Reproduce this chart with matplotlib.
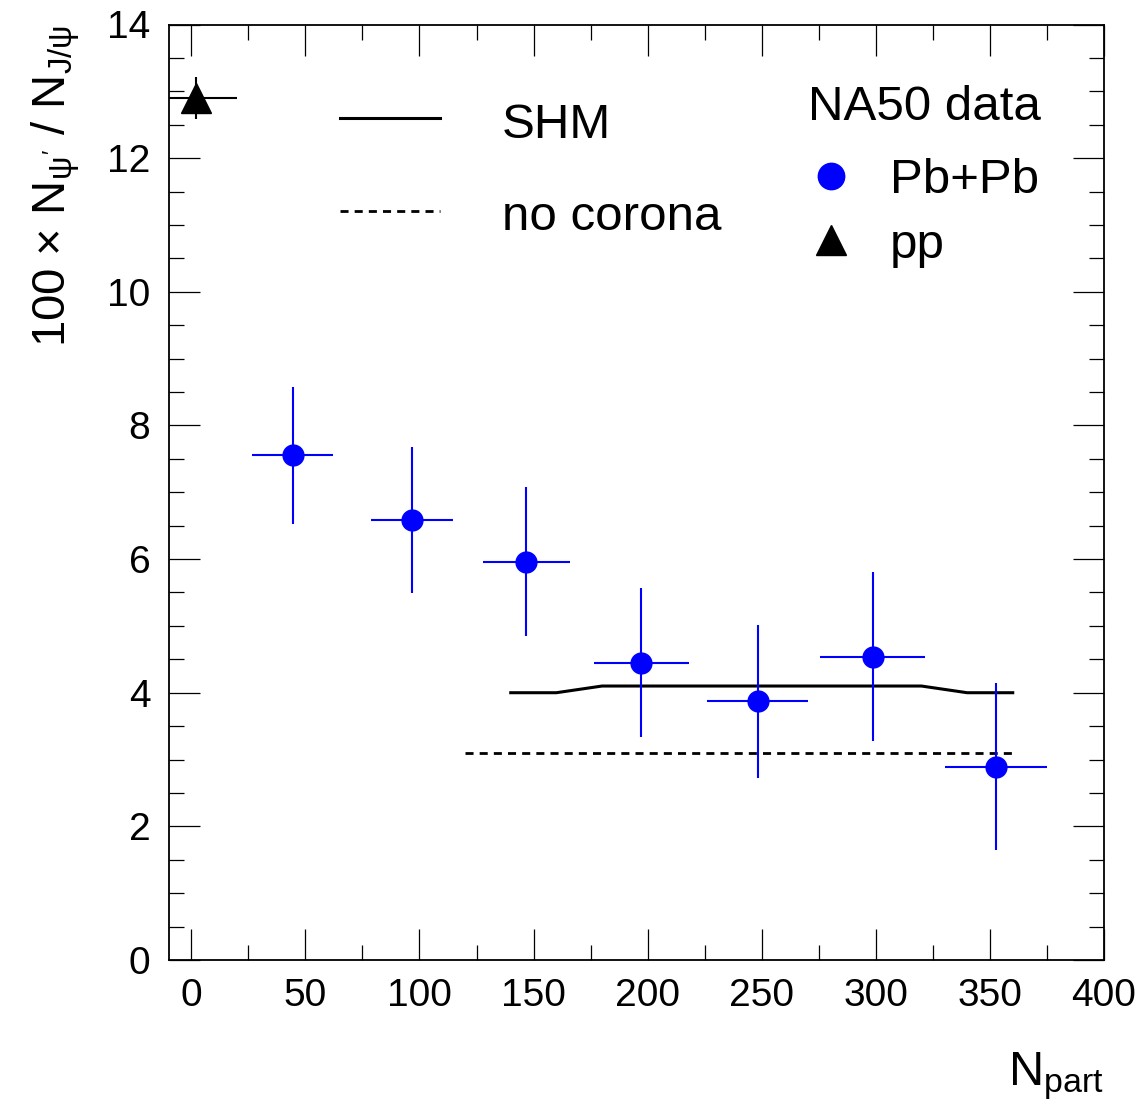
import numpy as np
import matplotlib.pyplot as plt
from matplotlib.ticker import MultipleLocator

plt.rcParams['font.family'] = ['Liberation Sans', 'DejaVu Sans']
plt.rcParams['mathtext.fontset'] = 'custom'
plt.rcParams['mathtext.rm'] = 'Liberation Sans'
plt.rcParams['mathtext.it'] = 'Liberation Sans'
plt.rcParams['mathtext.bf'] = 'Liberation Sans:bold'

# NA50 Pb+Pb points
npart = [44.5, 96.6, 146.9, 197.3, 248.2, 298.6, 352.7]
npart_err = [17.7, 17.9, 19.1, 20.6, 22.0, 23.0, 22.4]
ratio = [7.55, 6.58, 5.96, 4.45, 3.87, 4.54, 2.89]
ratio_err = [1.03, 1.09, 1.115, 1.12, 1.15, 1.27, 1.25]

# pp reference point
pp_npart = [2]
pp_npart_err = [18]
pp_ratio = [12.9]
pp_ratio_err = [0.32]

# model curves
shm_npart = [140, 160, 180, 200, 220, 240, 260, 280, 300, 320, 340, 360]
shm_ratio = [4.0, 4.0, 4.1, 4.1, 4.1, 4.1, 4.1, 4.1, 4.1, 4.1, 4.0, 4.0]
nocorona_npart = [120, 360]
nocorona_ratio = [3.1, 3.1]

fig = plt.figure(figsize=(11.4, 11.07), dpi=100)
ax = fig.add_axes([168.5 / 1140, (1107 - 960) / 1107, 935.5 / 1140, 935.5 / 1107])

dash = (0, (2.9, 2.2))
ax.plot(shm_npart, shm_ratio, color='black', lw=2.2)
ax.plot(nocorona_npart, nocorona_ratio, color='black', lw=2.0, linestyle=dash)

ax.errorbar(npart, ratio, xerr=npart_err, yerr=ratio_err, fmt='o', color='blue',
            ms=15, elinewidth=1.5, capsize=0, zorder=3)
ax.errorbar(pp_npart, pp_ratio, xerr=pp_npart_err, yerr=pp_ratio_err, fmt='^',
            color='black', ms=21, elinewidth=1.5, capsize=0, zorder=3)

ax.set_xlim(-10, 400)
ax.set_ylim(0, 14)
ax.xaxis.set_major_locator(MultipleLocator(50))
ax.xaxis.set_minor_locator(MultipleLocator(25))
ax.yaxis.set_major_locator(MultipleLocator(2))
ax.yaxis.set_minor_locator(MultipleLocator(0.5))
ax.tick_params(which='both', direction='in', top=True, right=True, width=0.9)
ax.tick_params(which='major', length=22, labelsize=28, pad=13)
ax.tick_params(which='minor', length=11)
for s in ax.spines.values():
    s.set_linewidth(1.3)

ax.set_xlabel(r'N$_{\mathrm{part}}$', fontsize=35, loc='right', labelpad=26)
ax.set_ylabel(r'100 $\times$ N$_{\psi^{\prime}}$ / N$_{J/\psi}$', fontsize=34,
              loc='top', labelpad=18)

# legend, left block
tr = ax.transAxes
ax.plot([0.1833, 0.2902], [0.900, 0.900], color='black', lw=2.2, transform=tr)
ax.text(0.3565, 0.8787, 'SHM', fontsize=35.5, transform=tr)
ax.plot([0.1833, 0.2902], [0.8006, 0.8006], color='black', lw=2.0,
        linestyle=dash, transform=tr)
ax.text(0.3565, 0.7803, 'no corona', fontsize=35.5, transform=tr)

# legend, right block
ax.text(0.6836, 0.8979, 'NA50 data', fontsize=35.5, transform=tr)
ax.plot([0.7081], [0.8380], 'o', color='blue', ms=19, transform=tr)
ax.text(0.7712, 0.8199, 'Pb+Pb', fontsize=35.5, transform=tr)
ax.plot([0.7081], [0.7696], '^', color='black', ms=21, transform=tr)
ax.text(0.7712, 0.7504, 'pp', fontsize=35.5, transform=tr)

fig.savefig('out.png', dpi=100)
